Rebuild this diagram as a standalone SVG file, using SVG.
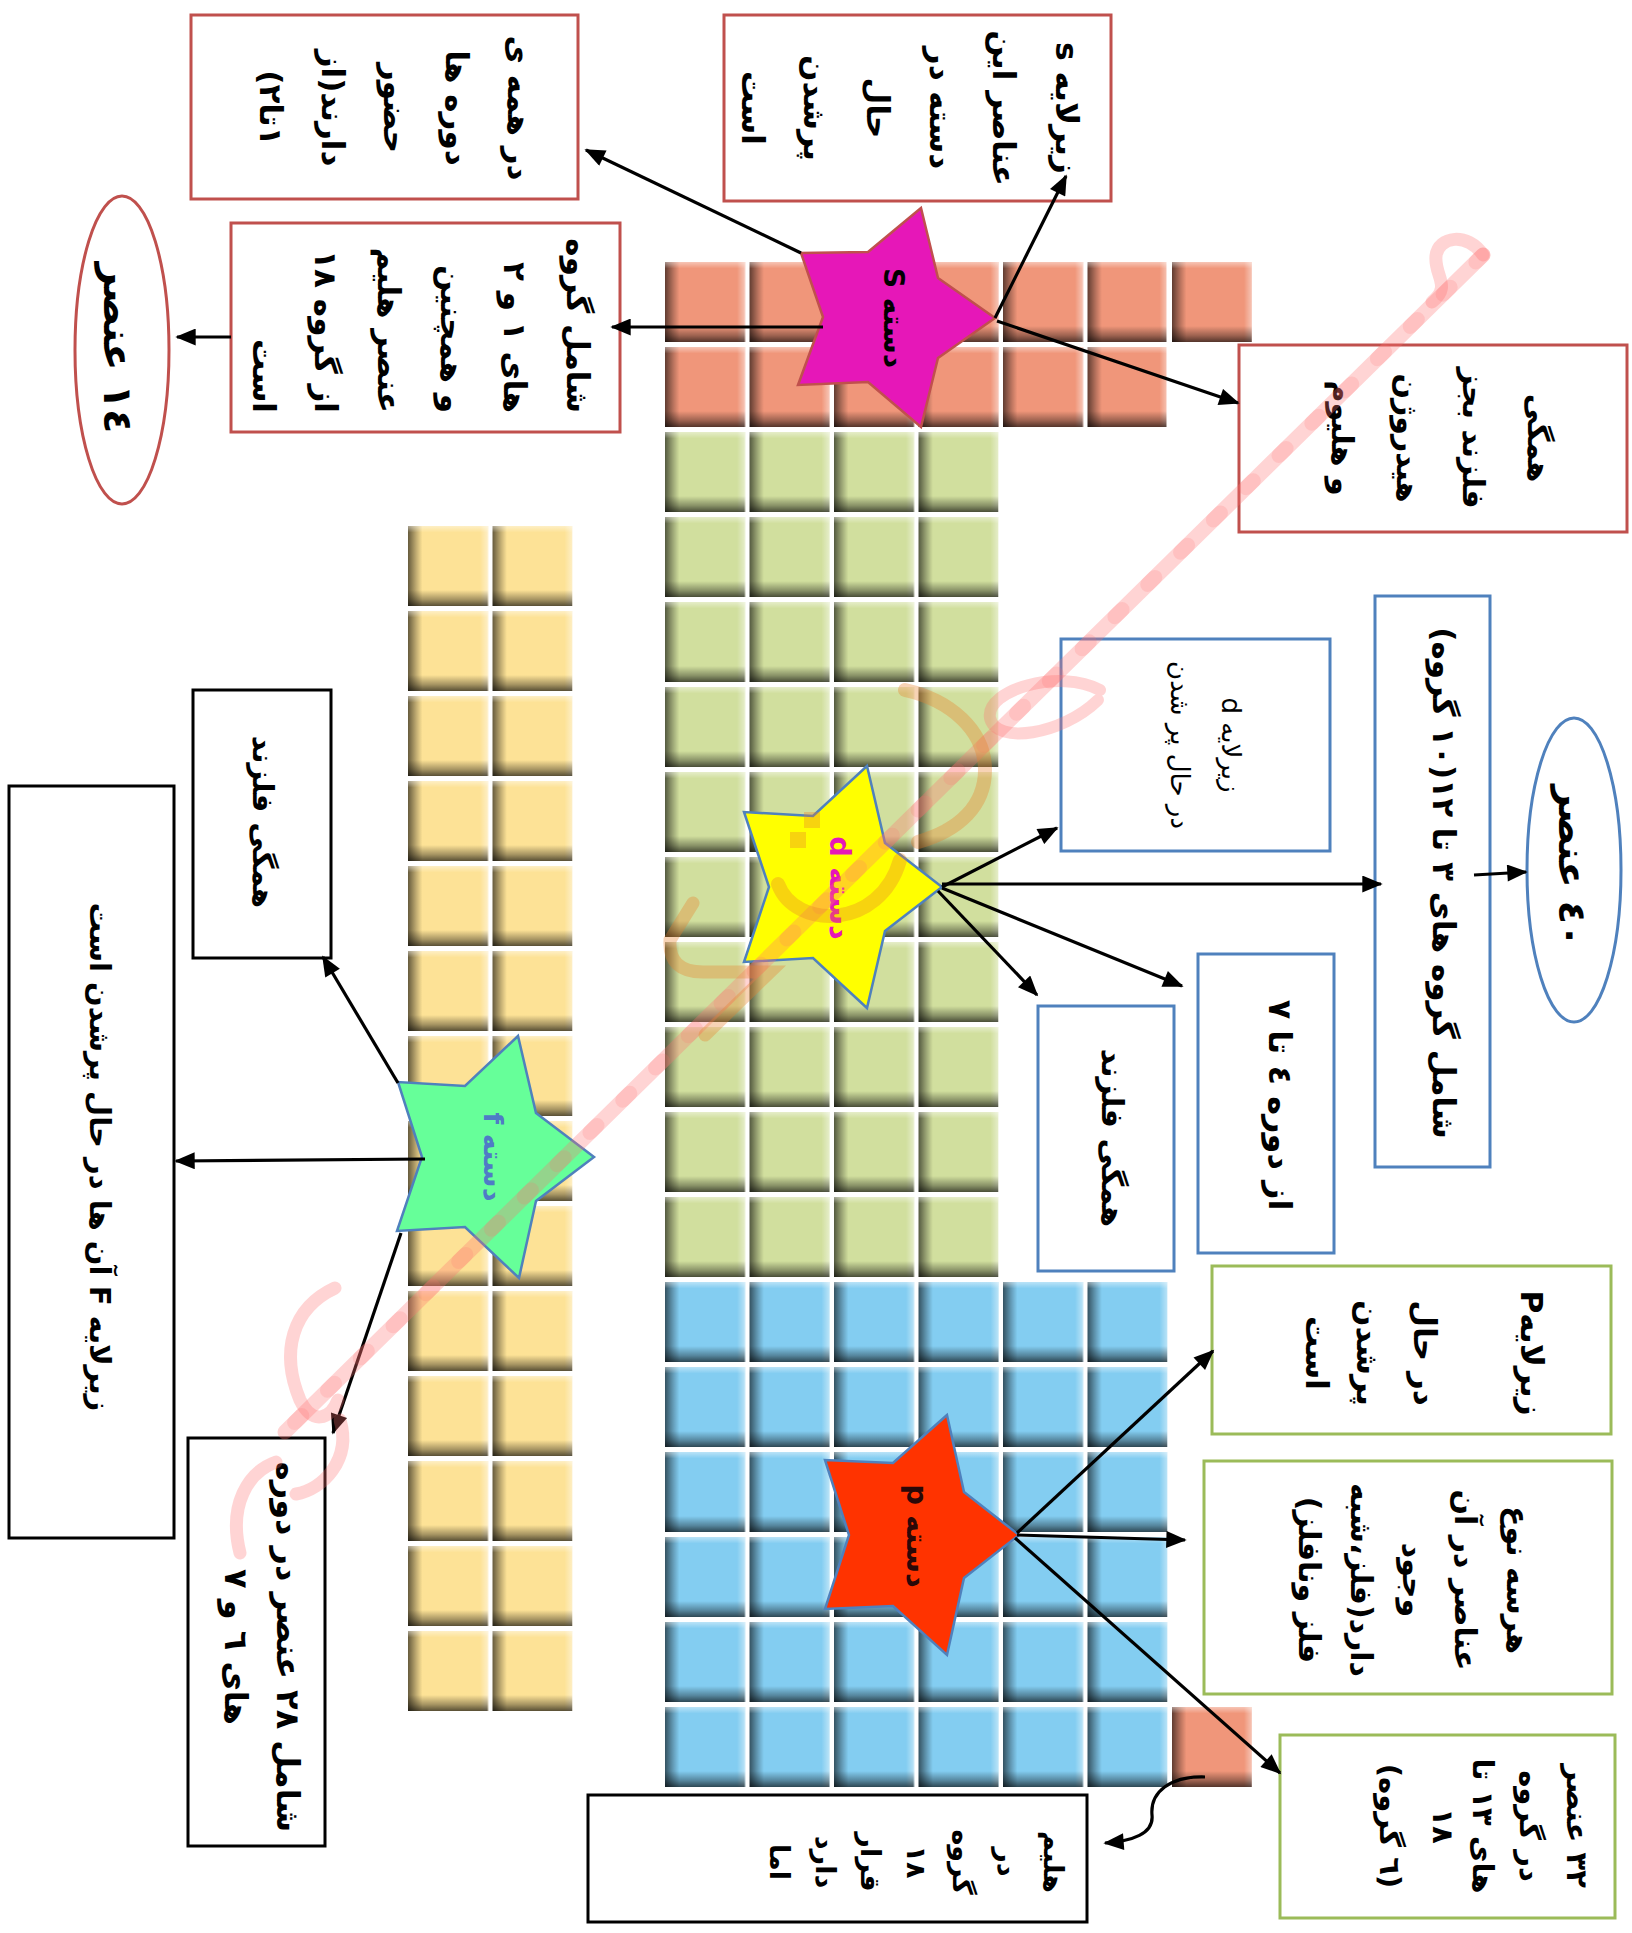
<svg xmlns="http://www.w3.org/2000/svg" width="1632" height="1933" viewBox="0 0 1632 1933">
<style>
.t{font-family:"DejaVu Sans","Noto Sans",sans-serif;font-weight:bold;fill:#000;text-anchor:middle;dominant-baseline:central;direction:rtl;unicode-bidi:embed}
.rb{fill:#fff;stroke:#C0504D;stroke-width:3}
.bb{fill:#fff;stroke:#4F81BD;stroke-width:3}
.gb{fill:#fff;stroke:#9BBB59;stroke-width:3}
.kb{fill:#fff;stroke:#000;stroke-width:3}
.cn{fill:none;stroke:#000;stroke-width:3.2;marker-end:url(#ah)}
.wm{fill:none;stroke:#FF7070;stroke-linecap:round;opacity:.3}
.wo{fill:none;stroke:#E8802A;stroke-linecap:round;opacity:.35}
</style>
<defs>
<linearGradient id="shH" x1="0" y1="0" x2="1" y2="0">
<stop offset="0" stop-color="#000" stop-opacity=".6"/>
<stop offset=".1" stop-color="#000" stop-opacity=".25"/>
<stop offset=".18" stop-color="#000" stop-opacity="0"/>
<stop offset=".9" stop-color="#fff" stop-opacity="0"/>
<stop offset="1" stop-color="#fff" stop-opacity=".45"/>
</linearGradient>
<linearGradient id="shV" x1="0" y1="0" x2="0" y2="1">
<stop offset="0" stop-color="#fff" stop-opacity=".45"/>
<stop offset=".08" stop-color="#fff" stop-opacity="0"/>
<stop offset=".8" stop-color="#000" stop-opacity="0"/>
<stop offset=".92" stop-color="#000" stop-opacity=".35"/>
<stop offset="1" stop-color="#000" stop-opacity=".65"/>
</linearGradient>
<pattern id="pS" patternUnits="userSpaceOnUse" x="665" y="262" width="84.5" height="85">
<rect width="80" height="80" fill="#F0967A"/><rect width="80" height="80" fill="url(#shH)"/><rect width="80" height="80" fill="url(#shV)"/>
</pattern>
<pattern id="pD" patternUnits="userSpaceOnUse" x="665" y="262" width="84.5" height="85">
<rect width="80" height="80" fill="#D1DF9E"/><rect width="80" height="80" fill="url(#shH)"/><rect width="80" height="80" fill="url(#shV)"/>
</pattern>
<pattern id="pP" patternUnits="userSpaceOnUse" x="665" y="262" width="84.5" height="85">
<rect width="80" height="80" fill="#83CDF1"/><rect width="80" height="80" fill="url(#shH)"/><rect width="80" height="80" fill="url(#shV)"/>
</pattern>
<pattern id="pF" patternUnits="userSpaceOnUse" x="408" y="526" width="84.5" height="85">
<rect width="80" height="80" fill="#FDE296"/><rect width="80" height="80" fill="url(#shH)"/><rect width="80" height="80" fill="url(#shV)"/>
</pattern>
<marker id="ah" viewBox="0 0 12 10" refX="11" refY="5" markerWidth="22" markerHeight="17" markerUnits="userSpaceOnUse" orient="auto">
<path d="M0,0 L12,5 L0,10 z" fill="#000"/>
</marker>
</defs>
<rect width="1632" height="1933" fill="#fff"/>

<g id="table">
<rect x="665" y="262" width="501.5" height="165" fill="url(#pS)"/>
<rect x="1172" y="262" width="80" height="80" fill="url(#pS)"/>
<rect x="665" y="432" width="333.5" height="845" fill="url(#pD)"/>
<rect x="665" y="1282" width="502.5" height="505" fill="url(#pP)"/>
<rect x="1172" y="1707" width="80" height="80" fill="url(#pS)"/>
<rect x="408" y="526" width="164.5" height="1185" fill="url(#pF)"/>
</g>

<g id="star-s">
<polygon points="921,208 868,252 801,253 823,317 798,385 868,382 921,427 938,358 995,318 938,278" fill="#E617B8" stroke="#C0504D" stroke-width="2.5"/>
<text class="t" font-size="28" transform="translate(893,318) rotate(90)">دسته S</text>
</g>
<g id="star-d">
<polygon points="867,766 813,816 744,812 769,887 744,962 813,958 867,1008 885,931 942,887 885,843" fill="#FFFF00" stroke="#4F81BD" stroke-width="2.5"/>
<text class="t" font-size="29" style="fill:#E617B8" transform="translate(840,888) rotate(90)">دسته d</text>
</g>
<g id="star-f">
<polygon points="518,1036 465,1086 398,1082 422,1157 397,1231 465,1227 519,1278 536,1201 594,1157 536,1113" fill="#66FF99" stroke="#4F81BD" stroke-width="2.5"/>
<text class="t" font-size="27" style="fill:#4F7BC6" transform="translate(493,1157) rotate(90)">دسته f</text>
</g>
<g id="star-p">
<polygon points="947,1415 893,1463 825,1460 849,1535 825,1609 893,1606 947,1655 964,1578 1019,1535 964,1492" fill="#FF3300" stroke="#4F81BD" stroke-width="2.5"/>
<text class="t" font-size="29" style="fill:#2A0808" transform="translate(917,1536) rotate(90)">دسته p</text>
</g>

<g id="box-a">
<rect class="rb" x="191" y="15" width="387" height="184"/>
<text class="t" font-size="31" transform="translate(395,108) rotate(90)"><tspan x="0" y="-124">در همه ی</tspan><tspan x="0" y="-62">دوره ها</tspan><tspan x="0" y="0">حضور</tspan><tspan x="0" y="62">دارند(از</tspan><tspan x="0" y="124">۱تا۲)</tspan></text>
</g>
<g id="box-b">
<rect class="rb" x="724" y="15" width="387" height="186"/>
<text class="t" font-size="31" transform="translate(910,108) rotate(90)"><tspan x="0" y="-157">زیرلایه s</tspan><tspan x="0" y="-94">عناصر این</tspan><tspan x="0" y="-31">دسته در</tspan><tspan x="0" y="32">حال</tspan><tspan x="0" y="95">پرشدن</tspan><tspan x="0" y="157">است</tspan></text>
</g>
<g id="box-c">
<rect class="rb" x="231" y="223" width="389" height="209"/>
<text class="t" font-size="31" style="text-anchor:start" transform="translate(421,413) rotate(90)"><tspan x="0" y="-157">شامل گروه</tspan><tspan x="0" y="-94">های ۱ و ۲</tspan><tspan x="0" y="-31">و همچنین</tspan><tspan x="0" y="32">عنصر هلیم</tspan><tspan x="0" y="95">از گروه ۱۸</tspan><tspan x="0" y="157">است</tspan></text>
</g>
<g id="ellipse-d">
<ellipse cx="122" cy="350" rx="47" ry="154" fill="#fff" stroke="#C0504D" stroke-width="3"/>
<text class="t" font-size="40" transform="translate(118,348) rotate(90)">۱٤ عنصر</text>
</g>
<g id="box-e">
<rect class="rb" x="1239" y="345" width="388" height="187"/>
<text class="t" font-size="30" transform="translate(1441,438) rotate(90)"><tspan x="0" y="-98">همگی</tspan><tspan x="0" y="-33">فلزند بجز</tspan><tspan x="0" y="33">هیدروژن</tspan><tspan x="0" y="98">و هلیوم</tspan></text>
</g>
<g id="box-f">
<rect class="bb" x="1061" y="639" width="269" height="212"/>
<text class="t" font-size="26" style="font-weight:normal" transform="translate(1206,745) rotate(90)"><tspan x="0" y="-25">زیرلایه d</tspan><tspan x="0" y="26">در حال پر شدن</tspan></text>
</g>
<g id="box-g">
<rect class="bb" x="1375" y="596" width="115" height="571"/>
<text class="t" font-size="31" transform="translate(1444,883) rotate(90)">شامل گروه های ۳ تا ۱۲(۱۰ گروه)</text>
</g>
<g id="ellipse-h">
<ellipse cx="1574" cy="870" rx="47" ry="152" fill="#fff" stroke="#4F81BD" stroke-width="3"/>
<text class="t" font-size="38" transform="translate(1572,866) rotate(90)">٤٠ عنصر</text>
</g>
<g id="box-i">
<rect class="bb" x="1198" y="954" width="136" height="299"/>
<text class="t" font-size="32" transform="translate(1280,1105) rotate(90)">از دوره ٤ تا ٧</text>
</g>
<g id="box-j">
<rect class="bb" x="1038" y="1006" width="136" height="265"/>
<text class="t" font-size="30" transform="translate(1112,1138) rotate(90)">همگی فلزند</text>
</g>
<g id="box-k">
<rect class="kb" x="193" y="690" width="138" height="268"/>
<text class="t" font-size="29" transform="translate(263,822) rotate(90)">همگی فلزند</text>
</g>
<g id="box-l">
<rect class="kb" x="9" y="786" width="165" height="752"/>
<text class="t" font-size="29" transform="translate(100,1157) rotate(90)">زیرلایه F آن ها در حال پرشدن است</text>
</g>
<g id="box-m">
<rect class="kb" x="188" y="1438" width="137" height="408"/>
<text class="t" font-size="32" transform="translate(262,1647) rotate(90)"><tspan x="0" y="-26">شامل ۲۸ عنصر در دوره</tspan><tspan x="0" y="26">های ٦ و ٧</tspan></text>
</g>
<g id="box-n">
<rect class="kb" x="588" y="1795" width="499" height="127"/>
<text class="t" font-size="27" transform="translate(917,1862) rotate(90)"><tspan x="0" y="-137">هلیم</tspan><tspan x="0" y="-91">در</tspan><tspan x="0" y="-46">گروه</tspan><tspan x="0" y="0">۱۸</tspan><tspan x="0" y="46">قرار</tspan><tspan x="0" y="91">دارد</tspan><tspan x="0" y="137">اما</tspan></text>
</g>
<g id="box-o">
<rect class="gb" x="1212" y="1266" width="399" height="168"/>
<text class="t" font-size="31" transform="translate(1425,1353) rotate(90)"><tspan x="0" y="-107">زیرلایهP</tspan><tspan x="0" y="0">در حال</tspan><tspan x="0" y="57">پرشدن</tspan><tspan x="0" y="108">است</tspan></text>
</g>
<g id="box-p">
<rect class="gb" x="1204" y="1461" width="408" height="233"/>
<text class="t" font-size="30" transform="translate(1414,1580) rotate(90)"><tspan x="0" y="-104">هرسه نوع</tspan><tspan x="0" y="-52">عناصر در آن</tspan><tspan x="0" y="0">وجود</tspan><tspan x="0" y="52">دارد(فلز،شبه</tspan><tspan x="0" y="104">فلز ونافلز)</tspan></text>
</g>
<g id="box-q">
<rect class="gb" x="1280" y="1735" width="335" height="183"/>
<text class="t" font-size="29" transform="translate(1483,1826) rotate(90)"><tspan x="0" y="-94">۳۲ عنصر</tspan><tspan x="0" y="-47">در گروه</tspan><tspan x="0" y="0">های ۱۳ تا</tspan><tspan x="0" y="40">۱۸</tspan><tspan x="0" y="93">(٦ گروه)</tspan></text>
</g>

<g id="connectors">
<path class="cn" d="M801,253 L586,150"/>
<path class="cn" d="M995,318 L1066,176"/>
<path class="cn" d="M997,321 L1238,403"/>
<path class="cn" d="M823,327 L612,327"/>
<path class="cn" d="M231,337 L177,337"/>
<path class="cn" d="M942,887 L1057,828"/>
<path class="cn" d="M942,884 L1381,884"/>
<path class="cn" d="M942,888 L1182,986"/>
<path class="cn" d="M938,891 L1037,995"/>
<path class="cn" d="M1474,875 L1526,872"/>
<path class="cn" d="M398,1083 L323,957"/>
<path class="cn" d="M425,1159 L176,1161"/>
<path class="cn" d="M401,1233 L333,1433"/>
<path class="cn" d="M1017,1533 L1213,1351"/>
<path class="cn" d="M1017,1535 L1185,1540"/>
<path class="cn" d="M1015,1538 L1280,1773"/>
<path class="cn" d="M1205,1777 C1170,1776 1150,1792 1152,1815 C1154,1834 1132,1841 1105,1843"/>
</g>

<g id="watermark">
<path class="wm" stroke-width="15" d="M1483,255 L285,1432"/>
<path class="wm" stroke-width="15" stroke-dasharray="10 36" stroke="#FF5050" style="opacity:.18" d="M1483,255 L285,1432"/>
<path class="wm" stroke-width="13" d="M1483,255 C1468,232 1438,236 1436,256 C1434,276 1452,286 1432,302"/>
<path class="wm" stroke-width="12" d="M1100,690 C1060,668 985,690 990,718 C996,745 1062,735 1098,700"/>
<path class="wo" stroke-width="14" d="M905,690 C950,700 985,730 985,770 C985,805 960,830 918,842"/>
<path class="wo" stroke-width="14" d="M778,884 C795,930 880,930 900,860"/>
<rect x="790" y="832" width="16" height="16" fill="#E8802A" opacity=".35"/>
<rect x="804" y="812" width="16" height="16" fill="#E8802A" opacity=".35"/>
<path class="wo" stroke-width="13" d="M693,903 L670,940 Q668,972 703,972 L770,972 L705,1035"/>
<path class="wm" stroke-width="13" d="M335,1288 C292,1308 280,1352 300,1400 C312,1425 330,1420 338,1400"/>
<path class="wm" stroke-width="13" d="M340,1420 C352,1460 322,1490 296,1494"/>
<path class="wm" stroke-width="13" d="M240,1553 C228,1505 248,1472 276,1462"/>
</g>
</svg>
